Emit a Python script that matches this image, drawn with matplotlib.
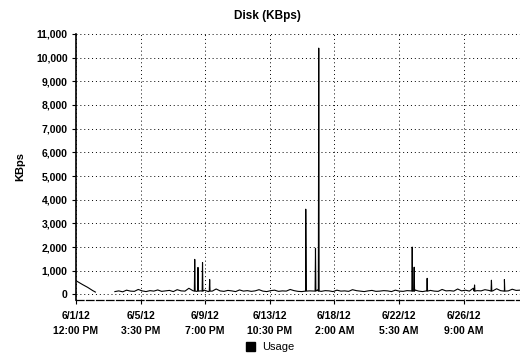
import datetime as dt
import matplotlib
matplotlib.use("Agg")
import matplotlib.pyplot as plt

# Start of the monitoring window.
start = dt.datetime(2012, 6, 1, 12, 0)

# Early samples (hours from start, KBps), then a gap.
early_hours = [2, 10, 18, 26, 30]
early_kbps = [550, 420, 300, 160, 100]

# Regular samples every 6 hours from hour 60 on.
base_start = 60
base_step = 6
base_kbps = [120, 150, 110, 180, 140, 130, 210, 150, 120, 160,
             140, 190, 130, 150, 170, 120, 200, 150, 140, 260,
             160, 130, 150, 180, 120, 140, 230, 150, 130, 170,
             150, 120, 190, 140, 160, 130, 150, 200, 140, 120,
             160, 180, 130, 150, 140, 210, 160, 130, 120, 170,
             150, 140, 190, 130, 160, 150, 120, 180, 140, 150,
             130, 200, 160, 140, 120, 150, 170, 130, 140, 160,
             150, 120, 180, 140, 130, 160, 150, 190, 140, 120,
             150, 170, 140, 130, 210, 150, 160, 140, 230, 150,
             180, 140, 260, 160, 150, 200, 170, 150, 240, 160,
             190, 150, 220, 170, 180]

# Narrow spikes (hour, KBps).
spike_hours = [183, 188, 195, 206, 354, 369, 374, 518, 521, 541, 614, 640, 660]
spike_kbps = [1480, 1140, 1350, 630, 3600, 1950, 10400, 2000, 1150, 680, 400, 600, 630]

tick_labels = ["6/1/12\n12:00 PM", "6/5/12\n3:30 PM", "6/9/12\n7:00 PM",
               "6/13/12\n10:30 PM", "6/18/12\n2:00 AM", "6/22/12\n5:30 AM",
               "6/26/12\n9:00 AM"]
tick_step_hours = 99.5

# Build the series: early part, a gap, then samples with spikes merged in.
points = [(h, v) for h, v in zip(early_hours, early_kbps)]
points.append((45, float("nan")))
points += [(base_start + i * base_step, v) for i, v in enumerate(base_kbps)]
for h, v in zip(spike_hours, spike_kbps):
    points.append((h - 0.6, 140))
    points.append((h, v))
    points.append((h + 0.6, 140))
points.sort(key=lambda p: p[0])
times = [start + dt.timedelta(hours=p[0]) for p in points]
values = [p[1] for p in points]

plt.rcParams["font.family"] = ["Liberation Sans", "DejaVu Sans"]
fig = plt.figure(figsize=(5.2, 3.57), dpi=100)
ax = fig.add_axes([0.146, 0.16, 0.854, 0.745])

ax.plot(times, values, color="black", linewidth=0.8, label="Usage")

ax.set_ylim(-230, 11000)
ax.set_yticks(range(0, 11001, 1000))
ax.set_yticklabels(["{:,}".format(v) for v in range(0, 11001, 1000)],
                   fontsize=7.5, fontweight="bold")
ticks = [start + dt.timedelta(hours=k * tick_step_hours) for k in range(len(tick_labels))]
ax.set_xticks(ticks)
ax.set_xticklabels(tick_labels, fontsize=7.5, fontweight="bold", linespacing=1.6)
ax.set_xlim(start, start + dt.timedelta(hours=684))

ax.grid(True, color="black", linestyle=(0, (1, 3)), linewidth=0.7)
ax.tick_params(axis="y", length=3, width=0.8, pad=3)
ax.tick_params(axis="x", length=3, width=0.8, pad=5)

for side in ["top", "right"]:
    ax.spines[side].set_visible(False)
ax.spines["left"].set_linewidth(1.2)
ax.spines["bottom"].set_linestyle((0, (6, 2)))
ax.spines["bottom"].set_linewidth(0.9)

ax.set_ylabel("KBps", fontsize=8, fontweight="bold", labelpad=8)
fig.text(0.515, 0.955, "Disk (KBps)", ha="center", va="center",
         fontsize=8.5, fontweight="bold")

fig.legend(loc="lower center", bbox_to_anchor=(0.52, -0.015), frameon=False,
           fontsize=8, handlelength=0.8, handleheight=0.8, handletextpad=0.6,
           handles=[plt.Rectangle((0, 0), 1, 1, color="black")], labels=["Usage"])

fig.savefig("out.png", dpi=100)
